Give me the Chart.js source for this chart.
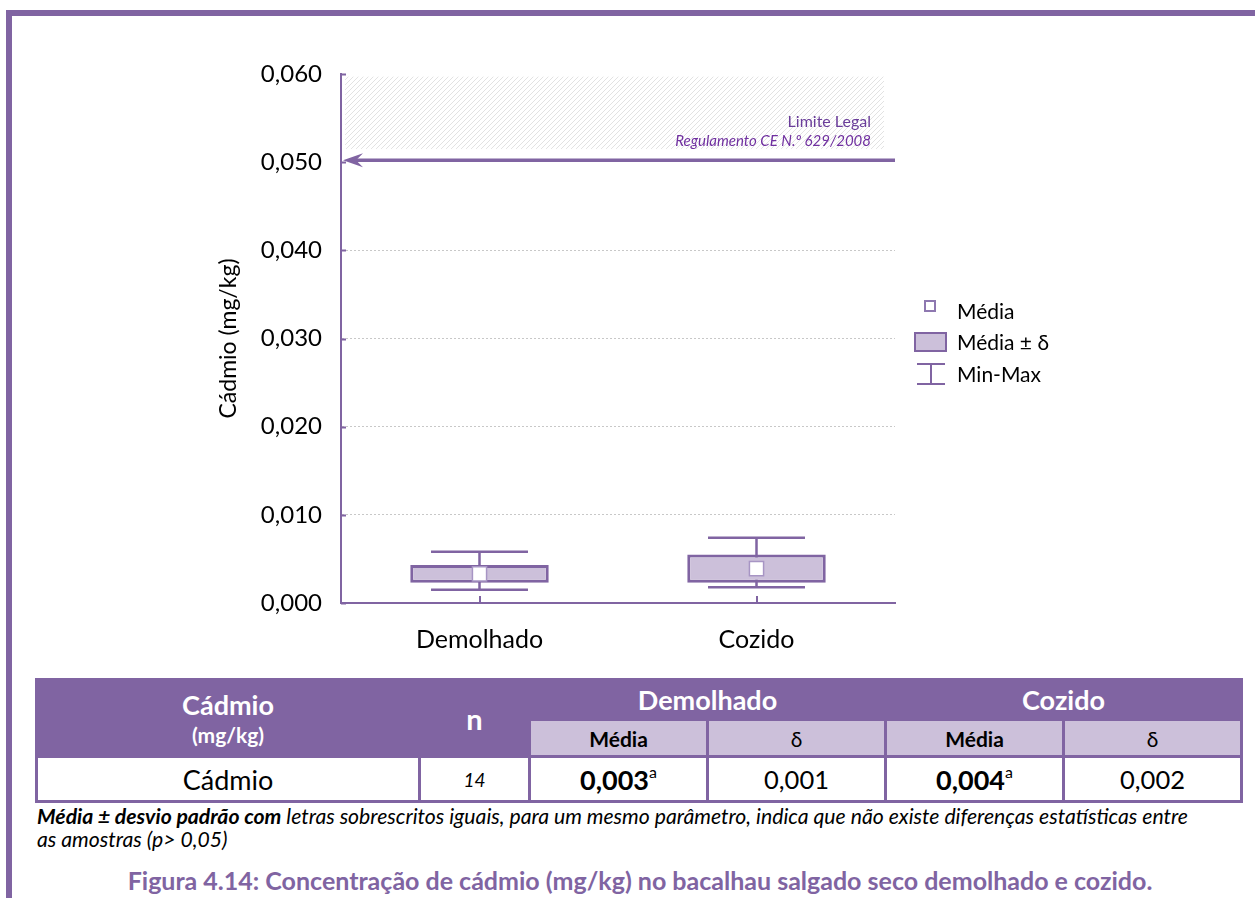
<!DOCTYPE html>
<html lang="pt">
<head>
<meta charset="utf-8">
<title>Cádmio no bacalhau salgado seco</title>
<script src="https://cdn.jsdelivr.net/npm/chart.js@4.4.1/dist/chart.umd.min.js"></script>
<style>
  html, body { margin: 0; padding: 0; background: #fff; }
  body { width: 1255px; height: 898px; position: relative; overflow: hidden;
         font-family: Lato, "Open Sans", sans-serif; color: #000; }
  #chart { position: absolute; left: 0; top: 0; }
  .frame-top { position: absolute; left: 6px; top: 10px; width: 1249px; height: 6px; background: #8064A2; }
  .frame-left { position: absolute; left: 6px; top: 10px; width: 6px; height: 888px; background: #8064A2; }
  table { position: absolute; left: 35px; top: 678px; width: 1205px; border-collapse: collapse;
          table-layout: fixed; text-align: center; }
  td { border: 3px solid #8064A2; padding: 0; vertical-align: middle; }
  .hd { background: #8064A2; color: #fff; font-weight: bold; }
  .sub { background: #CCC0DA; font-size: 21px; }
  .r1 { height: 40px; }
  .r2 { height: 37px; }
  .r3 { height: 45px; }
  .big { font-size: 27px; }
  .unit { display: block; font-size: 21px; line-height: 26px; }
  .name { display: block; font-size: 27px; line-height: 34px; }
  sup { font-size: 16px; vertical-align: 12px; line-height: 0; }
  .note { position: absolute; left: 37px; top: 805px; font-size: 21.2px; line-height: 23px;
          font-style: italic; white-space: nowrap; color: #000; }
  .caption { position: absolute; left: 640px; top: 865px; transform: translateX(-50%);
             font-size: 25px; font-weight: bold; color: #8064A2; white-space: nowrap; }
</style>
</head>
<body>
<canvas id="chart" width="1255" height="670"></canvas>
<div class="frame-top"></div>
<div class="frame-left"></div>
<table id="tbl"></table>
<div class="note"><b>Média ± desvio padrão com</b> letras sobrescritos iguais, para um mesmo parâmetro, indica que não existe diferenças estatísticas entre<br>as amostras (p&gt; 0,05)</div>
<div class="caption">Figura 4.14: Concentração de cádmio (mg/kg) no bacalhau salgado seco demolhado e cozido.</div>

<script>
// Cadmium (mg/kg) in dried salted cod: soaked vs cooked
const categories = ['Demolhado', 'Cozido'];
const means = [0.0033, 0.0039];
const deltas = [0.0010, 0.0016];
const mins = [0.0015, 0.0018];
const maxs = [0.0058, 0.0074];
const letters = ['a', 'a'];
const sampleCount = 14;
const legalLimit = 0.050;
const yTicks = [0, 0.010, 0.020, 0.030, 0.040, 0.050, 0.060];
const legendLabels = ['Média', 'Média ± δ', 'Min-Max'];

const PURPLE = '#8064A2';
const LILAC = '#CCC0DA';
const FONT = 'Lato, "Open Sans", sans-serif';

const fmt = v => v.toFixed(3).replace('.', ',');

// summary table under the chart
(function buildTable() {
  const t = document.getElementById('tbl');
  let html = '<colgroup><col style="width:383px"><col style="width:110px">' +
    '<col style="width:178px"><col style="width:178px"><col style="width:178px"><col style="width:178px"></colgroup>';
  html += '<tr class="r1"><td class="hd" rowspan="2"><span class="name">Cádmio</span><span class="unit">(mg/kg)</span></td>' +
    '<td class="hd" rowspan="2" style="font-size:29px">n</td>';
  categories.forEach(c => { html += `<td class="hd big" colspan="2">${c}</td>`; });
  html += '</tr><tr class="r2">';
  categories.forEach(() => { html += '<td class="sub"><b>Média</b></td><td class="sub">δ</td>'; });
  html += '</tr><tr class="r3"><td style="font-size:27px">Cádmio</td>' +
    `<td style="font-size:19px;font-style:italic">${sampleCount}</td>`;
  categories.forEach((c, i) => {
    html += `<td style="font-size:27px"><b>${fmt(means[i])}</b><sup>${letters[i]}</sup></td>` +
      `<td style="font-size:25.5px">${fmt(deltas[i])}</td>`;
  });
  html += '</tr>';
  t.innerHTML = html;
})();

// diagonal hatch used behind the legal-limit label
function hatchPattern(ctx) {
  const c = document.createElement('canvas');
  c.width = 5; c.height = 5;
  const g = c.getContext('2d');
  g.strokeStyle = '#DADADA';
  g.lineWidth = 0.8;
  g.beginPath();
  g.moveTo(0, 5); g.lineTo(5, 0);
  g.moveTo(-1, 1); g.lineTo(1, -1);
  g.moveTo(4, 6); g.lineTo(6, 4);
  g.stroke();
  return ctx.createPattern(c, 'repeat');
}

const limitPlugin = {
  id: 'limit',
  beforeDatasetsDraw(chart) {
    const { ctx, chartArea: a, scales: { y } } = chart;
    ctx.save();
    // hatched band with the label
    const top = y.getPixelForValue(0.0597), bot = y.getPixelForValue(0.0515);
    ctx.fillStyle = hatchPattern(ctx);
    ctx.fillRect(a.left + 4, top, a.width - 15, bot - top);
    ctx.textAlign = 'right';
    ctx.textBaseline = 'middle';
    ctx.fillStyle = '#6A3D9A';
    ctx.font = `16px ${FONT}`;
    ctx.fillText('Limite Legal', a.right - 24, top + 45);
    ctx.fillStyle = '#7030A0';
    ctx.font = `italic 15px ${FONT}`;
    ctx.fillText('Regulamento CE N.º 629/2008', a.right - 24, top + 65);
    // arrow at the legal limit
    const ly = y.getPixelForValue(legalLimit) - 2;
    ctx.strokeStyle = PURPLE;
    ctx.fillStyle = PURPLE;
    ctx.lineWidth = 3.5;
    ctx.beginPath();
    ctx.moveTo(a.right, ly);
    ctx.lineTo(a.left + 12, ly);
    ctx.stroke();
    ctx.beginPath();
    ctx.moveTo(a.left + 2, ly);
    ctx.lineTo(a.left + 22, ly - 7);
    ctx.lineTo(a.left + 15, ly);
    ctx.lineTo(a.left + 22, ly + 7);
    ctx.closePath();
    ctx.fill();

    // min-max whiskers
    const x = chart.scales.x;
    const capHalf = x.width / categories.length * 0.175;
    ctx.lineWidth = 2.5;
    categories.forEach((c, i) => {
      const cx = x.getPixelForValue(i);
      const yMin = y.getPixelForValue(mins[i]);
      const yMax = y.getPixelForValue(maxs[i]);
      ctx.beginPath();
      ctx.moveTo(cx, yMin); ctx.lineTo(cx, yMax);
      ctx.moveTo(cx - capHalf, yMin); ctx.lineTo(cx + capHalf, yMin);
      ctx.moveTo(cx - capHalf, yMax); ctx.lineTo(cx + capHalf, yMax);
      ctx.stroke();
    });
    ctx.restore();
  },
  afterDraw(chart) {
    const { ctx, chartArea: a, scales: { x, y } } = chart;
    ctx.save();
    ctx.strokeStyle = PURPLE;
    ctx.lineWidth = 2;
    // inward tick marks
    ctx.beginPath();
    yTicks.forEach(v => {
      const py = Math.round(y.getPixelForValue(v)) + 0.5;
      ctx.moveTo(a.left, py); ctx.lineTo(a.left + 5, py);
    });
    categories.forEach((c, i) => {
      const px = Math.round(x.getPixelForValue(i));
      ctx.moveTo(px, a.bottom); ctx.lineTo(px, a.bottom - 7);
    });
    ctx.stroke();

    // legend
    const lx = a.right + 35;
    const rows = [306, 342, 374];
    ctx.font = `21px ${FONT}`;
    ctx.fillStyle = '#000';
    ctx.textAlign = 'left';
    ctx.textBaseline = 'middle';
    legendLabels.forEach((t, i) => ctx.fillText(t, a.right + 62, rows[i] + (i === 0 ? 5 : 0) + 1));
    ctx.lineWidth = 2;
    ctx.strokeStyle = '#8E78B0';
    ctx.fillStyle = '#fff';
    ctx.fillRect(lx - 5, rows[0] - 5, 10, 10);
    ctx.strokeRect(lx - 5, rows[0] - 5, 10, 10);
    ctx.fillStyle = LILAC;
    ctx.strokeStyle = PURPLE;
    ctx.fillRect(lx - 15, rows[1] - 9, 31, 18);
    ctx.strokeRect(lx - 15, rows[1] - 9, 31, 18);
    ctx.beginPath();
    ctx.moveTo(lx - 13, rows[2] - 10); ctx.lineTo(lx + 15, rows[2] - 10);
    ctx.moveTo(lx + 1, rows[2] - 10); ctx.lineTo(lx + 1, rows[2] + 10);
    ctx.moveTo(lx - 13, rows[2] + 10); ctx.lineTo(lx + 15, rows[2] + 10);
    ctx.stroke();
    ctx.restore();
  }
};

new Chart(document.getElementById('chart'), {
  data: {
    labels: categories,
    datasets: [
      {
        type: 'bar',
        label: 'Média ± δ',
        data: categories.map((c, i) => [means[i] - deltas[i], means[i] + deltas[i]]),
        backgroundColor: LILAC,
        borderColor: PURPLE,
        borderWidth: 3,
        borderSkipped: false,
        categoryPercentage: 1,
        barPercentage: 0.5,
        order: 2
      },
      {
        type: 'line',
        label: 'Média',
        data: means,
        showLine: false,
        pointStyle: 'rect',
        pointRadius: 10,
        pointBackgroundColor: '#fff',
        pointBorderColor: '#A795C4',
        pointBorderWidth: 1.5,
        order: 1
      }
    ]
  },
  options: {
    responsive: false,
    animation: false,
    events: [],
    layout: { padding: { left: 210, top: 74, right: 360, bottom: 0 } },
    plugins: { legend: { display: false }, tooltip: { enabled: false } },
    scales: {
      x: {
        type: 'category',
        offset: true,
        grid: { display: false, drawTicks: false },
        border: { color: PURPLE, width: 2 },
        ticks: { color: '#000', font: { family: FONT, size: 25 }, padding: 22 },
        afterFit: s => { s.height = 67; }
      },
      y: {
        min: 0,
        max: 0.06,
        afterBuildTicks: s => { s.ticks = yTicks.map(v => ({ value: v })); },
        grid: {
          drawTicks: false,
          lineWidth: 1,
          color: c => (c.tick && c.tick.value > 0.001 && c.tick.value < 0.045) ? '#C8C8C8' : 'rgba(0,0,0,0)'
        },
        border: { color: PURPLE, width: 2, dash: [2, 2] },
        ticks: { color: '#000', font: { family: FONT, size: 24 }, padding: 19, callback: v => fmt(v) },
        title: { display: true, text: 'Cádmio (mg/kg)', color: '#000', font: { family: FONT, size: 23 }, padding: { top: 5, bottom: 0 } },
        afterFit: s => { s.width = 131; }
      }
    }
  },
  plugins: [limitPlugin]
});
</script>
</body>
</html>
